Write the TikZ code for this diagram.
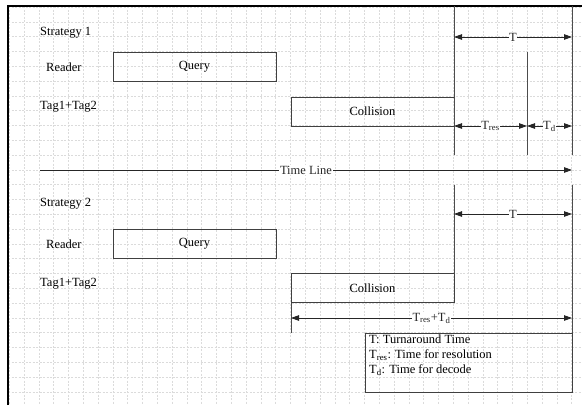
\documentclass[tikz,border=0pt]{standalone}
\usepackage{fontspec}
\setmainfont{Liberation Serif}
\usetikzlibrary{arrows.meta}
\begin{document}
\begin{tikzpicture}[x=1pt,y=-1pt,
  gridline/.style={gray!28, line width=0.4pt, dash pattern=on 2pt off 1.5pt},
  frameline/.style={black, line width=1.4pt},
  ln/.style={black!70, line width=0.8pt},
  boxnode/.style={draw=black!75, line width=0.8pt, minimum width=163pt, minimum height=29pt, inner sep=0pt, font=\fontsize{12.5}{14.8}\selectfont},
  dim/.style={black!85, line width=0.8pt, {Triangle[length=8pt,width=5.5pt]}-{Triangle[length=8pt,width=5.5pt]}},
  arr/.style={black!85, line width=0.8pt, -{Triangle[length=8pt,width=5.5pt]}},
  lbl/.style={font=\fontsize{12.5}{14.8}\selectfont, inner sep=1pt},
  onl/.style={lbl, fill=white, inner sep=0.6pt}]

\useasboundingbox (0,0) rectangle (582,405);
\fill[white] (0,0) rectangle (582,405);

% grid
\foreach \k in {0,...,38} {\draw[gridline] ({9.2+14.8*\k},6) -- ({9.2+14.8*\k},405);}
\foreach \k in {0,...,26} {\draw[gridline] (8,{6.9+14.8*\k}) -- (582,{6.9+14.8*\k});}

% frame
\coordinate (fb) at (8,405);
\coordinate (ftl) at (8,6);
\coordinate (ftr) at (582,6);
\draw[frameline] (fb) -- (ftl) -- (ftr);

% ---------- Strategy 1 ----------
\node[lbl, anchor=west] (s1) at (39,33) {Strategy 1};
\node[lbl, anchor=west] (r1) at (45,67) {Reader};
\node[lbl, anchor=west] (t1) at (39,107) {Tag1+Tag2};
\node[boxnode] (q1) at (194.5,66.5) {Query};
\node[boxnode] (c1) at (372.5,111.5) {Collision};

\coordinate (v1a) at (454,6);   \coordinate (v1b) at (454,155);
\coordinate (v2a) at (572,6);   \coordinate (v2b) at (572,155);
\coordinate (v3a) at (527,52);  \coordinate (v3b) at (527,155);
\draw[ln] (v1a) -- (v1b);
\draw[ln] (v2a) -- (v2b);
\draw[ln] (v3a) -- (v3b);

\coordinate (T1l) at (454,37); \coordinate (T1r) at (572,37);
\draw[dim] (T1l) -- node[onl] (T1lab) {T} (T1r);

\coordinate (R1l) at (454,126); \coordinate (R1m) at (527,126); \coordinate (R1r) at (572,126);
\draw[dim] (R1l) -- node[onl] (Rlab) {T\textsubscript{res}} (R1m);
\draw[dim] (R1m) -- node[onl] (Dlab) {T\textsubscript{d}} (R1r);

% ---------- Time line ----------
\coordinate (tl0) at (40,170); \coordinate (tl1) at (572,170);
\draw[arr] (tl0) -- node[onl] (tllab) {Time Line} (tl1);

% ---------- Strategy 2 ----------
\node[lbl, anchor=west] (s2) at (39,204) {Strategy 2};
\node[lbl, anchor=west] (r2) at (45,244) {Reader};
\node[lbl, anchor=west] (t2) at (39,284) {Tag1+Tag2};
\node[boxnode] (q2) at (194.5,244) {Query};
\node[boxnode] (c2) at (372.5,288) {Collision};

\coordinate (w1a) at (454,185); \coordinate (w1b) at (454,273.5);
\coordinate (w2a) at (572,185); \coordinate (w2b) at (572,333);
\coordinate (w3a) at (291,302.5); \coordinate (w3b) at (291,333);
\draw[ln] (w1a) -- (w1b);
\draw[ln] (w2a) -- (w2b);
\draw[ln] (w3a) -- (w3b);

\coordinate (T2l) at (454,214); \coordinate (T2r) at (572,214);
\draw[dim] (T2l) -- node[onl] (T2lab) {T} (T2r);

\coordinate (S2l) at (291,318); \coordinate (S2r) at (572,318);
\draw[dim] (S2l) -- node[onl] (S2lab) {T\textsubscript{res}+T\textsubscript{d}} (S2r);

% legend
\node[draw=black!75, line width=0.8pt, minimum width=207pt, minimum height=59pt, inner sep=0pt, anchor=north west] (leg) at (365,333) {};
\node[lbl, anchor=north west, align=left, inner sep=0pt, font=\fontsize{12.5}{15}\selectfont] (legtxt) at (369,335)
  {T: Turnaround Time\\T\textsubscript{res}: Time for resolution\\T\textsubscript{d}: Time for decode};

\end{tikzpicture}
\end{document}
